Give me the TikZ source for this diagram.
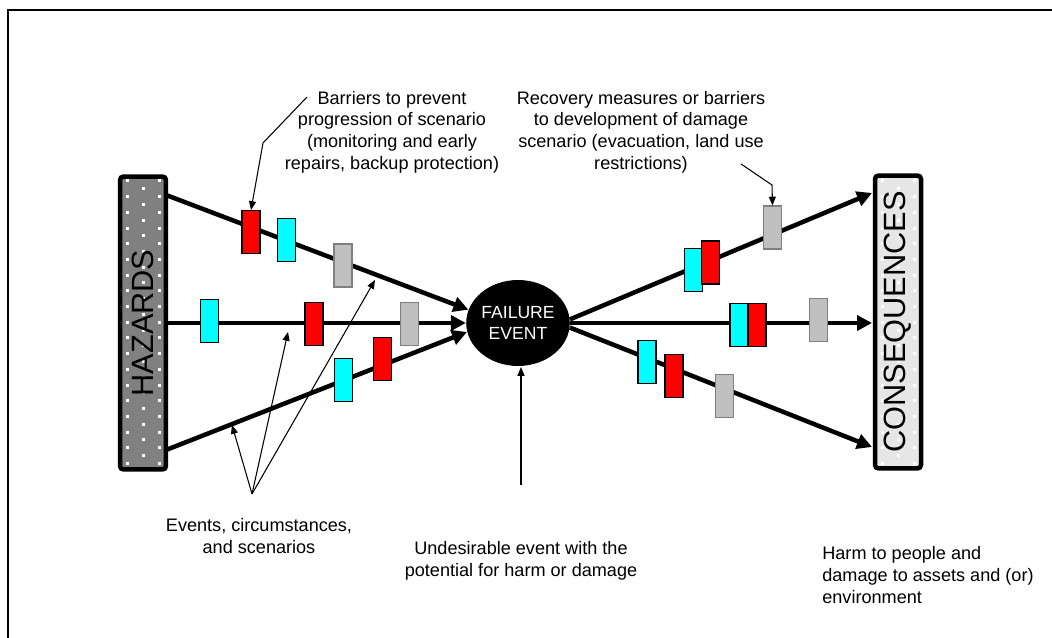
\documentclass[tikz,border=0pt]{standalone}
\usepackage{fontspec}
\setmainfont{Liberation Sans}
\usetikzlibrary{arrows.meta, shapes.geometric}

\definecolor{barred}{RGB}{255,0,0}
\definecolor{barcyan}{RGB}{0,255,255}
\definecolor{barsilver}{RGB}{192,192,192}
\definecolor{barline}{RGB}{128,128,128}
\definecolor{hazgray}{RGB}{128,128,128}
\definecolor{conslight}{RGB}{230,230,230}

\begin{document}
\begin{tikzpicture}[x=0.02cm, y=-0.02cm,
    flow/.style={line width=0.09cm, -{Triangle[length=8.5pt,width=8.5pt]}},
    pointer/.style={line width=0.6pt, -{Triangle[length=5pt,width=4pt]}},
    note/.style={align=center, inner sep=0pt, font=\fontsize{10.3}{12.3}\selectfont},
    barrier/.style={rectangle, minimum width=0.36cm, minimum height=0.86cm, inner sep=0pt, line width=0.6pt},
    endbox/.style={rectangle, rounded corners=2pt, line width=0.09cm, minimum width=0.92cm, minimum height=5.86cm, inner sep=0pt},
    bigword/.style={rotate=90, inner sep=0pt, font=\fontsize{17.5}{20}\selectfont}
]
    % 0. Page size and the frame (only top and left side are visible)
    \useasboundingbox (0,0) rectangle (1052,638);
    \draw[line width=0.04cm] (8,645) -- (8,10) -- (1060,10);

    % 1. The two end boxes with the white dot pattern
    \node[endbox, draw, fill=hazgray] (hazards) at (143,323) {};
    \node[endbox, draw, fill=conslight] (consequences) at (898,322) {};
    \foreach \cx in {143,898} {
        \foreach \k in {0,...,18} {
            \fill[white] (\cx-17.5, 179.5+15.7*\k) rectangle +(3,3);
            \fill[white] (\cx+14.5, 179.5+15.7*\k) rectangle +(3,3);
        }
        \foreach \k in {0,...,17} {
            \fill[white] (\cx-1.5, 187.3+15.7*\k) rectangle +(3,3);
        }
    }
    \node[bigword] (hazards-label) at (hazards.center) {HAZARDS};
    \node[bigword] (consequences-label) at (consequences.center) {CONSEQUENCES};

    % 2. The failure event in the middle
    \node[
        ellipse,
        fill=black,                 % black disc
        text=white,
        minimum width=2.04cm,
        minimum height=1.72cm,
        inner xsep=0pt,
        inner ysep=0.24cm,          % keeps the disc tall enough round the two lines
        align=center,
        font=\fontsize{10}{12}\selectfont
    ] (failure) at (518,323) {FAILURE\\EVENT};

    % 3. Scenario lines, left side into the event, right side out to the consequences
    \coordinate (h-top) at (166,195);
    \coordinate (h-mid) at (166,323);
    \coordinate (h-bot) at (166,450);
    \coordinate (c-top) at (872,193);
    \coordinate (c-mid) at (872,323);
    \coordinate (c-bot) at (872,447);

    \draw[flow] (h-top) -- (failure.165);
    \draw[flow] (h-mid) -- (failure.west);
    \draw[flow] (h-bot) -- (failure.190);
    \draw[flow] (failure.4) -- (c-top);
    \draw[flow] (failure.east) -- (c-mid);
    \draw[flow] (failure.-5) -- (c-bot);

    % 4. Barriers on the lines (x/y/fill/border/name)
    \foreach \x/\y/\f/\d/\n in {
        251/232/barred/black/lt-red,      286.5/240/barcyan/black/lt-cyan,  343/265.5/barsilver/barline/lt-gray,
        209.5/321/barcyan/black/lm-cyan,  314/324/barred/black/lm-red,      409.5/324/barsilver/barline/lm-gray,
        343.5/380/barcyan/black/lb-cyan,  382.5/359/barred/black/lb-red,
        693.5/270/barcyan/black/rt-cyan,  710.5/262.5/barred/black/rt-red,  772.5/227.5/barsilver/barline/rt-gray,
        739/325/barcyan/black/rm-cyan,    757/325/barred/black/rm-red,      818.5/320/barsilver/barline/rm-gray,
        647/362/barcyan/black/rb-cyan,    674/376/barred/black/rb-red,      724.5/396/barsilver/barline/rb-gray} {
        \node[barrier, fill=\f, draw=\d] (\n) at (\x,\y) {};
    }

    % 5. Explanations
    \node[note] (barrier-note) at (392,132)
        {Barriers to prevent\\progression of scenario\\(monitoring and early\\repairs, backup protection)};
    \node[note] (recovery-note) at (641,132)
        {Recovery measures or barriers\\to development of damage\\scenario (evacuation, land use\\restrictions)};
    \node[note] (events-note) at (259,536)
        {Events, circumstances,\\and scenarios};
    \node[note] (failure-note) at (521,561)
        {Undesirable event with the\\potential for harm or damage};
    \node[note, align=left, anchor=west] (harm-note) at (822,575)
        {Harm to people and\\damage to assets and (or)\\environment};

    % 6. Pointers from the explanations
    \coordinate (bn-start) at (307,97);
    \coordinate (bn-bend) at (263,143);
    \draw[pointer] (bn-start) -- (bn-bend) -- (lt-red.north);

    \coordinate (rn-start) at (741,164);
    \coordinate (rn-bend) at (772,185);
    \draw[pointer] (rn-start) -- (rn-bend) -- (rt-gray.north);

    \coordinate (ev-root) at (252,494);
    \coordinate (ev-1) at (232,425);
    \coordinate (ev-2) at (288,332);
    \coordinate (ev-3) at (375,280);
    \foreach \t in {1,2,3} {
        \draw[pointer] (ev-root) -- (ev-\t);
    }

    \coordinate (fn-start) at (521,485);
    \coordinate (fn-tip) at (521,367);
    \draw[pointer] (fn-start) -- (fn-tip);
\end{tikzpicture}
\end{document}
